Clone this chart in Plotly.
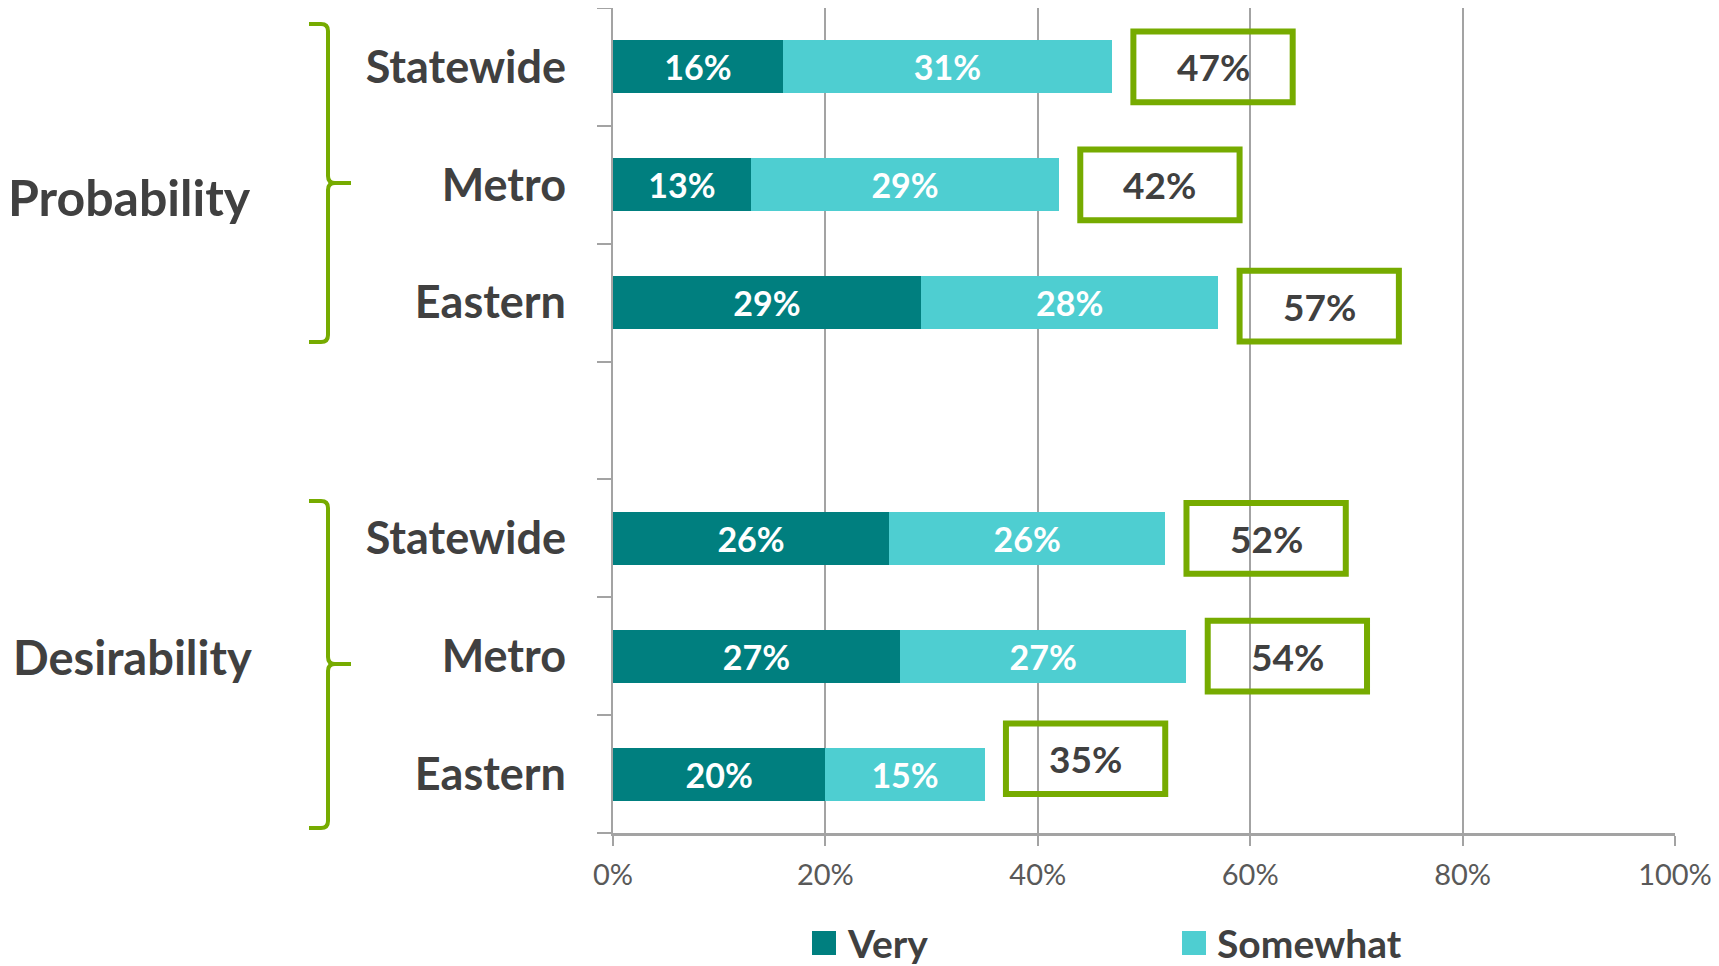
import plotly.graph_objects as go

# data
groups = ["Probability", "Desirability"]
regions = ["Statewide", "Metro", "Eastern"]
very_prob = [16, 13, 29]
somewhat_prob = [31, 29, 28]
very_des = [26, 27, 20]
somewhat_des = [26, 27, 15]

# row positions (top group above a blank row)
pos_prob = [6, 5, 4]
pos_des = [2, 1, 0]

DARK = "#007F7F"
LIGHT = "#4ECED1"
GREEN = "#76AB00"
TXT = "#404040"
GRID = "#A3A3A3"
FONT = "Lato"

# page is drawn with an 8px body margin, so the figure is 8px smaller
OFF = 8
W, H = 1719 - OFF, 966 - OFF
# plot area in page pixels
X0, X1, Y0, Y1 = 613, 1675, 8, 833
PW = X1 - X0
PH = Y1 - Y0


def px(x):
    return (x - X0) / PW


def py(y):
    return (Y1 - y) / PH


ys = pos_prob + pos_des
very = very_prob + very_des
somewhat = somewhat_prob + somewhat_des
totals = [a + b for a, b in zip(very, somewhat)]

fig = go.Figure()

for vals, name, color in [(very, "Very", DARK), (somewhat, "Somewhat", LIGHT)]:
    fig.add_trace(go.Bar(
        y=ys, x=vals, orientation="h", name=name,
        marker=dict(color=color, line=dict(width=0)),
        text=[f"{v}%" for v in vals], textposition="inside",
        insidetextanchor="middle",
        textfont=dict(family=FONT, size=34, color="white", weight="bold"),
        showlegend=False,
    ))

# total boxes
box_shift = {35: 0.13, 57: -0.03}
for y, t in zip(ys, totals):
    s = box_shift.get(t, 0)
    fig.add_shape(type="rect", xref="x", yref="y",
                  x0=t + 2, x1=t + 17, y0=y - 0.3 + s, y1=y + 0.3 + s,
                  line=dict(color=GREEN, width=6))
    fig.add_annotation(x=t + 9.5, y=y + s, xref="x", yref="y",
                       text=f"{t}%", showarrow=False,
                       font=dict(family=FONT, size=37, color=TXT, weight="bold"))

# braces + group labels
braces = [(24, 183, 342), (501, 664, 828)]
label_pos = [(129, 197, 50), (132, 657, 47)]
xl, xv, xt, r = 309, 328, 351, 7
for (top, mid, bot), name, (lx, ly, fs) in zip(braces, groups, label_pos):
    pts = [
        ("M", [(xl, top)]),
        ("L", [(xv - r, top)]),
        ("Q", [(xv, top), (xv, top + r)]),
        ("L", [(xv, mid - r)]),
        ("Q", [(xv, mid), (xv + r, mid)]),
        ("L", [(xt, mid)]),
        ("M", [(xv + r, mid)]),
        ("Q", [(xv, mid), (xv, mid + r)]),
        ("L", [(xv, bot - r)]),
        ("Q", [(xv, bot), (xv - r, bot)]),
        ("L", [(xl, bot)]),
    ]
    path = " ".join(
        c + " " + " ".join(f"{px(a):.5f},{py(b):.5f}" for a, b in p) for c, p in pts
    )
    fig.add_shape(type="path", xref="paper", yref="paper", path=path,
                  line=dict(color=GREEN, width=4))
    fig.add_annotation(x=px(lx), y=py(ly), xref="paper", yref="paper",
                       text=name, showarrow=False, xanchor="center", yanchor="middle",
                       borderpad=0,
                       font=dict(family=FONT, size=fs, color=TXT, weight="bold"))

# manual legend
for name, color, sx in [("Very", DARK, 812), ("Somewhat", LIGHT, 1182)]:
    fig.add_shape(type="rect", xref="paper", yref="paper",
                  x0=px(sx), x1=px(sx + 24), y0=py(931), y1=py(955),
                  fillcolor=color, line=dict(width=0))
    fig.add_annotation(x=px(sx + 33), y=py(943), xref="paper", yref="paper",
                       text=name, showarrow=False, xanchor="left", yanchor="middle",
                       font=dict(family=FONT, size=39, color=TXT, weight="bold"))

fig.update_layout(
    barmode="stack",
    bargap=0.55,
    width=W, height=H,
    margin=dict(l=X0 - OFF, r=1719 - X1, t=Y0 - OFF, b=966 - Y1),
    plot_bgcolor="white",
    paper_bgcolor="white",
    showlegend=False,
    xaxis=dict(
        range=[0, 100], dtick=20, ticksuffix="%",
        showgrid=True, gridcolor=GRID, gridwidth=1.5,
        zeroline=False,
        showline=True, linecolor=GRID, linewidth=2.5,
        ticks="outside", ticklen=10, tickcolor=GRID, tickwidth=1.5,
        ticklabelstandoff=4,
        tickfont=dict(family=FONT, size=29, color="#595959"),
    ),
    yaxis=dict(
        range=[-0.5, 6.5],
        tickvals=ys, ticktext=regions + regions,
        ticks="", showgrid=False, zeroline=False,
        showline=True, linecolor=GRID, linewidth=2,
        ticklabelstandoff=36,
        tickfont=dict(family=FONT, size=45, color=TXT, weight="bold"),
        minor=dict(tickvals=[v - 0.5 for v in range(8)], ticks="outside",
                   ticklen=14, tickcolor=GRID, tickwidth=2, showgrid=False),
    ),
)

fig.write_html("out.html")
